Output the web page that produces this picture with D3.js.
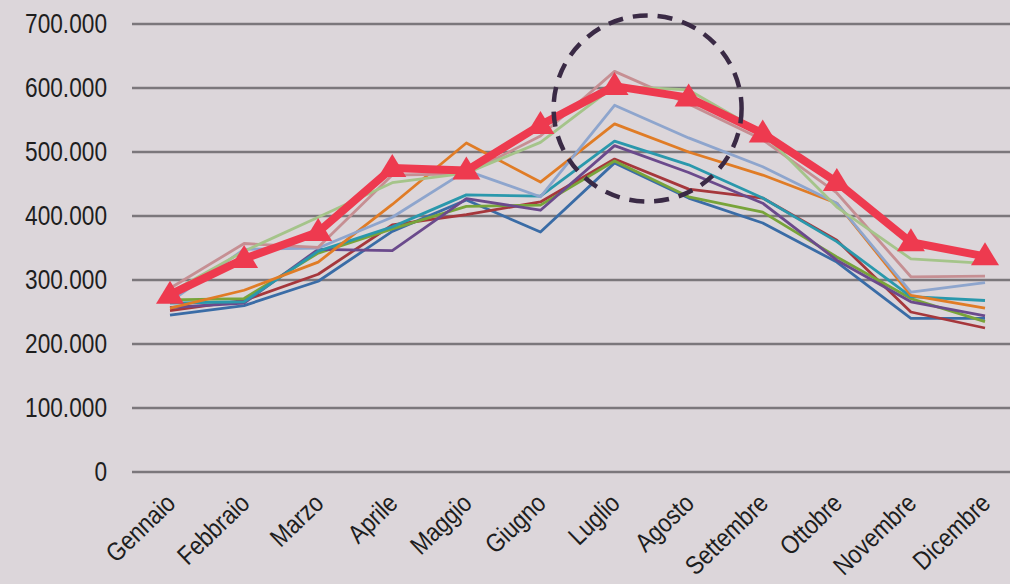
<!DOCTYPE html>
<html>
<head>
<meta charset="utf-8">
<script src="https://cdn.jsdelivr.net/npm/d3@7"></script>
<style>
  html, body { margin: 0; padding: 0; background: #DCD6DA; }
  svg { display: block; }
  text { font-family: "Liberation Sans", Arial, sans-serif; fill: #1e1e1e; }
</style>
</head>
<body>
<svg id="chart" width="1010" height="584"></svg>
<script>
// Categories
const months = ["Gennaio","Febbraio","Marzo","Aprile","Maggio","Giugno","Luglio","Agosto","Settembre","Ottobre","Novembre","Dicembre"];
// Y tick values
const yTicks = [0, 100000, 200000, 300000, 400000, 500000, 600000, 700000];

// Series values
const darkBlue  = [245000, 260000, 298000, 376000, 425000, 375000, 483000, 428000, 389000, 328000, 240000, 240000];
const darkRed   = [252000, 268000, 309000, 386000, 402000, 422000, 489000, 442000, 428000, 362000, 250000, 225000];
const green     = [269000, 271000, 342000, 380000, 415000, 417000, 486000, 430000, 406000, 336000, 271000, 235000];
const purple    = [257000, 264000, 348000, 346000, 427000, 409000, 510000, 468000, 420000, 331000, 266000, 244000];
const teal      = [264000, 266000, 345000, 383000, 433000, 431000, 517000, 480000, 428000, 360000, 274000, 268000];
const orange    = [256000, 284000, 328000, 418000, 514000, 453000, 544000, 500000, 464000, 420000, 276000, 256000];
const lightBlue = [266000, 348000, 350000, 398000, 471000, 430000, 573000, 522000, 477000, 420000, 281000, 296000];
const rose      = [287000, 357000, 351000, 464000, 466000, 525000, 626000, 575000, 519000, 436000, 305000, 306000];
const lightGreen= [280000, 345000, 398000, 452000, 467000, 515000, 603000, 597000, 530000, 414000, 333000, 326000];
const highlight = [277000, 333000, 375000, 475000, 471000, 542000, 603000, 585000, 529000, 453000, 359000, 337000];

const thinSeries = [
  {values: darkBlue,   color: "#3A6CA6"},
  {values: darkRed,    color: "#A6373C"},
  {values: green,      color: "#78A43A"},
  {values: purple,     color: "#6B4A8C"},
  {values: teal,       color: "#2A98AC"},
  {values: orange,     color: "#E07C26"},
  {values: lightBlue,  color: "#8EA5CD"},
  {values: rose,       color: "#C68F93"},
  {values: lightGreen, color: "#A5C48A"}
];

const svg = d3.select("#chart");

const x = d3.scalePoint().domain(months).range([170, 985]);
const y = d3.scaleLinear().domain([0, 700000]).range([472, 24]);

// Gridlines
svg.append("g").selectAll("line").data(yTicks).join("line")
  .attr("x1", 132).attr("x2", 1010)
  .attr("y1", d => y(d)).attr("y2", d => y(d))
  .attr("stroke", "#7B777B").attr("stroke-width", 2.5);

// Y labels
const fmt = d => d === 0 ? "0" : d3.format(",")(d).replace(/,/g, ".");
svg.append("g").selectAll("text").data(yTicks).join("text")
  .attr("transform", d => `translate(107,${y(d)}) scale(0.84,1)`)
  .attr("text-anchor", "end")
  .attr("dy", "0.35em")
  .attr("font-size", 27)
  .text(fmt);

// X labels
svg.append("g").selectAll("text").data(months).join("text")
  .attr("transform", d => `translate(${x(d) + 7},505) rotate(-44) scale(0.86,1)`)
  .attr("text-anchor", "end")
  .attr("font-size", 26)
  .text(d => d);

const line = d3.line().x((d, i) => x(months[i])).y(d => y(d));

// Thin lines
svg.append("g").selectAll("path").data(thinSeries).join("path")
  .attr("d", d => line(d.values))
  .attr("fill", "none")
  .attr("stroke", d => d.color)
  .attr("stroke-width", 2.8)
  .attr("stroke-linejoin", "round");

// Highlight line
svg.append("path")
  .attr("d", line(highlight))
  .attr("fill", "none")
  .attr("stroke", "#EE3A4F")
  .attr("stroke-width", 8)
  .attr("stroke-linejoin", "round");

// Triangle markers
svg.append("g").selectAll("path").data(highlight).join("path")
  .attr("transform", (d, i) => `translate(${x(months[i])},${y(d)})`)
  .attr("d", "M0,-14 L14,9 L-14,9 Z")
  .attr("fill", "#EE3A4F");

// Dashed circle highlight
svg.append("ellipse")
  .attr("cx", (x("Luglio") + x("Agosto")) / 2 - 4)
  .attr("cy", y(568000))
  .attr("rx", 94).attr("ry", 93)
  .attr("fill", "none")
  .attr("stroke", "#3A2A45")
  .attr("stroke-width", 4.5)
  .attr("stroke-dasharray", "15,10");
</script>
</body>
</html>
